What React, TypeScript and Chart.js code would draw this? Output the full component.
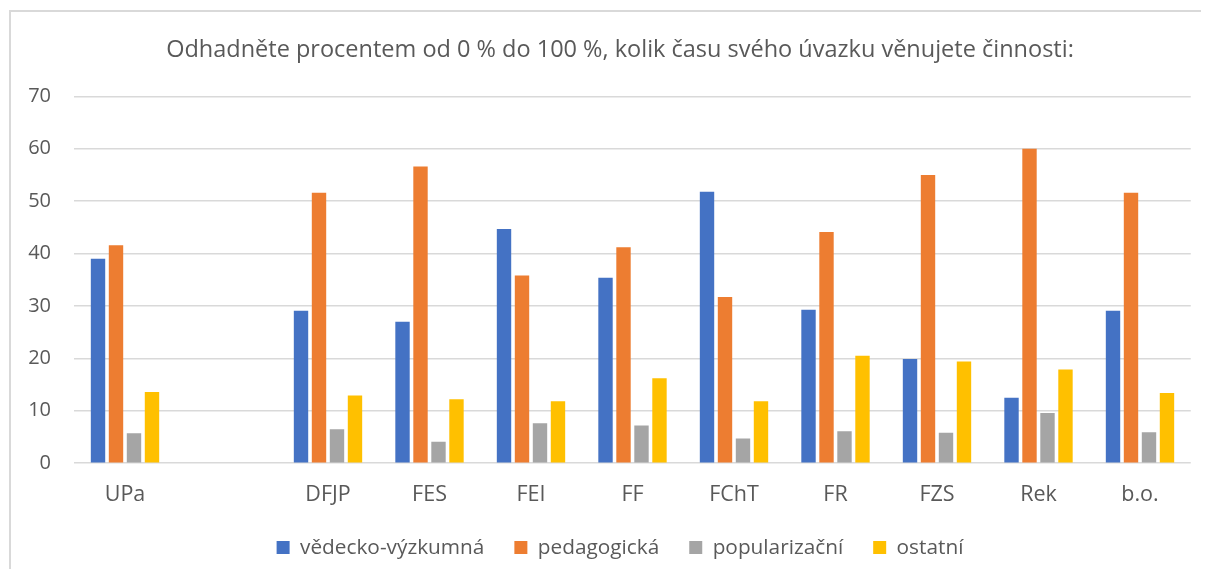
import React, { useEffect, useRef } from "react";
import { Chart, registerables } from "chart.js";

Chart.register(...registerables);

const categories = ["UPa", "", "DFJP", "FES", "FEI", "FF", "FChT", "FR", "FZS", "Rek", "b.o."];
const vedeckoVyzkumna = [39.0, null, 29.1, 27.0, 44.7, 35.4, 51.8, 29.3, 19.9, 12.5, 29.1];
const pedagogicka = [41.6, null, 51.6, 56.6, 35.8, 41.2, 31.7, 44.1, 55.0, 60.0, 51.6];
const popularizacni = [5.7, null, 6.5, 4.1, 7.6, 7.2, 4.7, 6.1, 5.8, 9.6, 5.9];
const ostatni = [13.6, null, 12.9, 12.2, 11.8, 16.2, 11.8, 20.5, 19.4, 17.9, 13.4];
const seriesNames = ["vědecko-výzkumná", "pedagogická", "popularizační", "ostatní"];
const seriesColors = ["#4472C4", "#ED7D31", "#A5A5A5", "#FFC000"];
const yTicks = [0, 10, 20, 30, 40, 50, 60, 70];
const titleText = "Odhadněte procentem od 0 % do 100 %, kolik času svého úvazku věnujete činnosti:";

const FONT = "'Open Sans', 'Noto Sans', sans-serif";
const TEXT = "#595959";

export default function App() {
  const ref = useRef<HTMLCanvasElement | null>(null);

  useEffect(() => {
    if (!ref.current) return;
    const values = [vedeckoVyzkumna, pedagogicka, popularizacni, ostatni];
    const chart = new Chart(ref.current, {
      type: "bar",
      data: {
        labels: categories,
        datasets: seriesNames.map((name, i) => ({
          label: name,
          data: values[i],
          backgroundColor: seriesColors[i],
          borderWidth: 0,
          categoryPercentage: 0.709,
          barPercentage: 0.8,
        })),
      },
      options: {
        animation: false,
        responsive: false,
        maintainAspectRatio: false,
        layout: { padding: { left: 0, right: 0, top: 0, bottom: 9 } },
        plugins: {
          title: {
            display: true,
            text: titleText,
            color: TEXT,
            font: { family: FONT, size: 23.5, weight: "normal", lineHeight: 1.2 },
            padding: { top: 35.9, bottom: 32.2 },
          },
          legend: {
            position: "bottom",
            labels: {
              color: TEXT,
              font: { family: FONT, size: 20.8 },
              boxWidth: 13,
              boxHeight: 13,
              padding: 30,
            },
          },
          tooltip: { enabled: false },
        },
        scales: {
          x: {
            grid: { display: false },
            border: { display: false },
            ticks: { color: TEXT, font: { family: FONT, size: 21.5 }, padding: 11, maxRotation: 0, autoSkip: false },
            afterFit: (s: any) => { s.height = 44; },
          },
          y: {
            min: 0,
            max: 70,
            afterBuildTicks: (s: any) => { s.ticks = yTicks.map((v) => ({ value: v })); },
            grid: { color: "#d9d9d9", lineWidth: 1.5, drawTicks: false },
            border: { display: false },
            ticks: { color: TEXT, font: { family: FONT, size: 20 }, padding: 23.25 },
            afterFit: (s: any) => { s.width = 65.25; },
          },
          yRight: {
            position: "right",
            display: true,
            min: 0,
            max: 70,
            grid: { display: false },
            border: { display: false },
            ticks: { display: false },
            afterFit: (s: any) => { s.width = 40.25; },
          },
        },
      },
    });
    return () => chart.destroy();
  }, []);

  return (
    <div style={{ position: "relative", width: 1209, height: 577, margin: -8, overflow: "hidden", background: "#fff" }}>
      <div style={{ position: "absolute", left: 9, top: 10, width: 1300, height: 700, borderLeft: "2px solid #d9d9d9", borderTop: "2px solid #d9d9d9" }} />
      <canvas ref={ref} width={1222} height={577} style={{ position: "absolute", left: 9, top: 0, width: 1222, height: 577 }} />
    </div>
  );
}
